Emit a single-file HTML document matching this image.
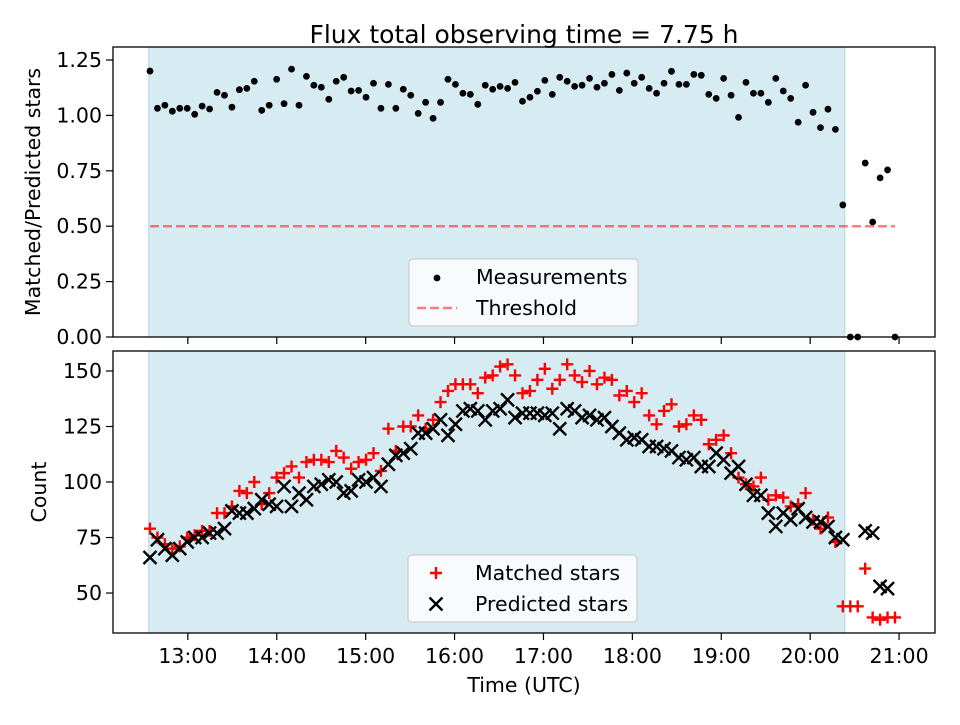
<!DOCTYPE html>
<html><head><meta charset="utf-8"><style>
body{margin:0;background:#fff;}
svg{font-family:"DejaVu Sans","Liberation Sans",sans-serif;}
</style></head><body>
<svg id="chart" width="960" height="720" viewBox="0 0 960 720" xmlns="http://www.w3.org/2000/svg"></svg>
<script>
// ---- data ----
const startHour = 12.574;     // first measurement time (h UTC)
const stepHour = 0.0838;      // ~5-minute cadence
const shadeStart = 12.56, shadeEnd = 20.39;
const ratio = [1.200,1.032,1.046,1.019,1.032,1.032,1.005,1.042,1.029,1.104,1.091,1.037,1.116,1.122,1.154,1.023,1.046,1.163,1.053,1.209,1.046,1.176,1.136,1.127,1.073,1.154,1.172,1.110,1.113,1.082,1.145,1.032,1.140,1.032,1.118,1.091,1.009,1.059,0.987,1.059,1.163,1.140,1.100,1.095,1.050,1.136,1.118,1.131,1.122,1.149,1.064,1.082,1.109,1.158,1.095,1.172,1.154,1.131,1.136,1.167,1.127,1.145,1.185,1.113,1.191,1.145,1.172,1.122,1.100,1.145,1.199,1.140,1.140,1.185,1.181,1.095,1.077,1.167,1.091,0.991,1.149,1.100,1.100,1.059,1.167,1.110,1.077,0.969,1.136,1.014,0.945,1.028,0.937,0.596,0,0,0.785,0.519,0.718,0.754,0];
const matched = [79,75,72,70,71,75,76,78,78,86,86,89,96,95,100,90,95,102,104,107,102,109,110,110,109,114,111,106,109,110,113,105,124,114,125,125,130,124,128,136,141,144,144,144,140,147,148,152,153,148,140,141,146,151,142,146,153,148,145,150,144,147,146,139,141,136,140,130,126,132,135,125,126,130,128,117,119,121,113,102,99,98,102,92,94,93,89,90,95,83,79,84,73,44,44,44,61,39,38,39,39];
const predicted = [66,74,70,67,70,73,75,75,77,77,79,87,86,86,88,92,90,89,98,89,95,92,98,99,101,100,95,96,101,100,102,98,108,112,113,115,122,122,124,128,121,126,132,133,132,128,132,133,137,129,131,131,131,130,131,124,133,132,129,130,128,129,125,122,119,120,119,116,116,115,114,111,110,111,107,107,113,110,104,107,99,94,94,86,80,86,83,88,84,82,82,80,75,74,null,null,78,77,53,52,null];
const xTicks = ["13:00","14:00","15:00","16:00","17:00","18:00","19:00","20:00","21:00"];
const xTickHours = [13,14,15,16,17,18,19,20,21];
const topTicks = [0,0.25,0.5,0.75,1.0,1.25];
const botTicks = [50,75,100,125,150];
const threshold = 0.5;

// ---- geometry ----
const NS = "http://www.w3.org/2000/svg";
const svg = document.getElementById('chart');
const L = 113, R = 935;
const xMin = 12.158, xMax = 21.404;
const sx = h => L + (h - xMin) / (xMax - xMin) * (R - L);
const T1 = 47, B1 = 337, yMin1 = 0, yMax1 = 1.3087;
const sy1 = v => B1 - (v - yMin1) / (yMax1 - yMin1) * (B1 - T1);
const T2 = 351, B2 = 633, yMin2 = 32, yMax2 = 159;
const sy2 = v => B2 - (v - yMin2) / (yMax2 - yMin2) * (B2 - T2);
const timeOf = i => startHour + i * stepHour;
const FS = 20.5;

function mk(tag, attrs, parent){
  const e = document.createElementNS(NS, tag);
  for (const k in attrs) e.setAttribute(k, attrs[k]);
  (parent || svg).appendChild(e);
  return e;
}
function txt(s, attrs, parent){ const e = mk('text', attrs, parent); e.textContent = s; return e; }

// title
const title = txt('Flux total observing time = 7.75 h', {x:524, y:43, 'font-size':25, 'text-anchor':'middle', fill:'#000'});



function panel(T, B, sy, ticks, fmt, ylabel, yname, pname){
  const g = mk('g', {});
  
  
  const sh = mk('rect', {x:sx(shadeStart), y:T, width:sx(shadeEnd)-sx(shadeStart), height:B-T, fill:'#add8e6', 'fill-opacity':0.5, stroke:'#add8e6', 'stroke-width':1}, g);
  
  
  ticks.forEach(v => {
    const y = sy(v);
    mk('line', {x1:L-7, x2:L, y1:y, y2:y, stroke:'#000', 'stroke-width':1.2}, g);
    const t = txt(fmt(v), {x:L-11, y:y+7, 'font-size':FS, 'text-anchor':'end'}, g);
    
    
  });
  xTickHours.forEach(h => {
    mk('line', {x1:sx(h), x2:sx(h), y1:B, y2:B+7, stroke:'#000', 'stroke-width':1.2}, g);
  });
  const yl = txt(ylabel, {x:0, y:0, 'font-size':FS, 'text-anchor':'middle', transform:`translate(${yname==='count'?46:40},${(T+B)/2}) rotate(-90)`}, g);
  
  
  return g;
}
const g1 = panel(T1, B1, sy1, topTicks, v => v.toFixed(2), 'Matched/Predicted stars', 'ratio', 'ratio-panel');
const g2 = panel(T2, B2, sy2, botTicks, v => String(v), 'Count', 'count', 'count-panel');

// x tick labels bottom
xTicks.forEach((s, i) => {
  const t = txt(s, {x:sx(xTickHours[i]), y:B2+30, 'font-size':FS, 'text-anchor':'middle'});
  
  
});
const xl = txt('Time (UTC)', {x:524, y:692, 'font-size':FS, 'text-anchor':'middle'});



// threshold
const th = mk('line', {x1:sx(timeOf(0)), x2:sx(timeOf(ratio.length-1)), y1:sy1(threshold), y2:sy1(threshold), stroke:'#ff0000', 'stroke-opacity':0.5, 'stroke-width':2.5, 'stroke-dasharray':'9,4'}, g1);



// measurements
ratio.forEach((v, i) => {
  const c = mk('circle', {cx:sx(timeOf(i)), cy:sy1(v), r:3.4, fill:'#000'}, g1);
  
  
});

// matched (+) and predicted (x)
matched.forEach((v, i) => {
  if (v === null) return;
  const x = sx(timeOf(i)), y = sy2(v), a = 6;
  const p = mk('path', {d:`M${x-a},${y}H${x+a}M${x},${y-a}V${y+a}`, stroke:'#ff0000', 'stroke-width':2.4, fill:'none'}, g2);
  
  
});
predicted.forEach((v, i) => {
  if (v === null) return;
  const x = sx(timeOf(i)), y = sy2(v), a = 6.5;
  const p = mk('path', {d:`M${x-a},${y-a}L${x+a},${y+a}M${x-a},${y+a}L${x+a},${y-a}`, stroke:'#000', 'stroke-width':2.4, fill:'none'}, g2);
  
  
});

// frames
[[T1,B1],[T2,B2]].forEach(([T,B]) => {
  const f = mk('rect', {x:L, y:T, width:R-L, height:B-T, fill:'none', stroke:'#000', 'stroke-width':1.3});
  
  
});

// legends
function legend(x, y, items, name){
  const g = mk('g', {});
  
  
  mk('rect', {x:x, y:y, width:229, height:67, rx:4, fill:'#fff', 'fill-opacity':0.8, stroke:'#cccccc', 'stroke-width':1.2}, g);
  items.forEach((it, k) => {
    const cy = y + 18 + k*31, cx = x + 28;
    const e = mk('g', {}, g);
    
    
    if (it.m === 'dot') mk('circle', {cx:cx, cy:cy+1, r:3.4, fill:'#000'}, e);
    if (it.m === 'dash') mk('line', {x1:cx-20, x2:cx+20, y1:cy, y2:cy, stroke:'#ff0000', 'stroke-opacity':0.5, 'stroke-width':2.5, 'stroke-dasharray':'9,4'}, e);
    if (it.m === 'plus') mk('path', {d:`M${cx-6},${cy}H${cx+6}M${cx},${cy-6}V${cy+6}`, stroke:'#ff0000', 'stroke-width':2.4}, e);
    if (it.m === 'x') mk('path', {d:`M${cx-6.5},${cy-6.5}L${cx+6.5},${cy+6.5}M${cx-6.5},${cy+6.5}L${cx+6.5},${cy-6.5}`, stroke:'#000', 'stroke-width':2.4}, e);
    txt(it.t, {x:x+67, y:cy+7, 'font-size':FS}, e);
  });
}
legend(409, 259, [{m:'dot', t:'Measurements'}, {m:'dash', t:'Threshold'}], 'ratio-legend');
legend(408, 555, [{m:'plus', t:'Matched stars'}, {m:'x', t:'Predicted stars'}], 'count-legend');
</script>
</body></html>
